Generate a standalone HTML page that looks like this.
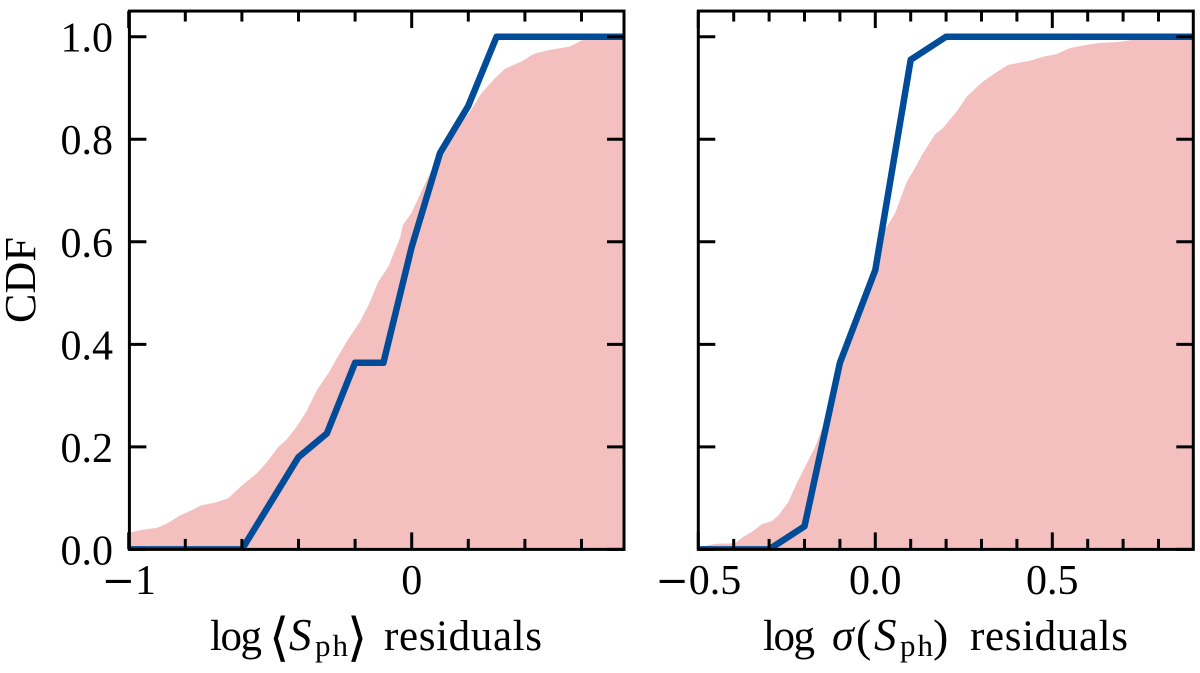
<!DOCTYPE html>
<html>
<head>
<meta charset="utf-8">
<style>
html,body{margin:0;padding:0;background:#fff;}
svg{display:block;}
text{font-family:"Liberation Serif","DejaVu Serif",serif;fill:#000;}
</style>
</head>
<body>
<svg id="chart" xmlns="http://www.w3.org/2000/svg" width="1200" height="673" viewBox="0 0 1200 673">
  <defs>
    <clipPath id="clip-left"><rect x="129.4" y="11.4" width="494.6" height="538"/></clipPath>
    <clipPath id="clip-right"><rect x="698.3" y="11.4" width="495" height="538"/></clipPath>
  </defs>
  <g id="panel-left"></g>
  <g id="panel-right"></g>

  <text transform="translate(35,323) rotate(-90)" font-size="44" textLength="86">CDF</text>

  <g>
    <text x="210" y="650" font-size="43" textLength="52">log</text>
    <text x="269" y="655" font-size="52" style="font-family:'DejaVu Sans',sans-serif">⟨</text>
    <text x="289" y="650" font-size="45" font-style="italic" textLength="26">S</text>
    <text x="315" y="656" font-size="31" textLength="33">ph</text>
    <text x="347" y="655" font-size="52" style="font-family:'DejaVu Sans',sans-serif">⟩</text>
    <text x="384" y="650" font-size="43" textLength="158">residuals</text>
  </g>
  <g>
    <text x="763" y="650" font-size="43" textLength="52">log</text>
    <text x="832" y="650" font-size="44" font-style="italic" textLength="24">σ</text>
    <text x="856" y="651" font-size="46">(</text>
    <text x="874" y="650" font-size="45" font-style="italic" textLength="26">S</text>
    <text x="900" y="656" font-size="31" textLength="33">ph</text>
    <text x="933" y="651" font-size="46">)</text>
    <text x="970" y="650" font-size="43" textLength="158">residuals</text>
  </g>
</svg>
<script>
// Shared y axis
const yTickValues = [0, 0.2, 0.4, 0.6, 0.8, 1.0];
const yTickLabels = ["0.0", "0.2", "0.4", "0.6", "0.8", "1.0"];

// Left panel: log <S_ph> residuals
const leftXMajor = [-1, 0];
const leftXMajorLabels = ["\u22121", "0"];
const leftXMinor = [-0.8, -0.6, -0.4, -0.2, 0.2, 0.4, 0.6];
const leftLineX = [-1, -0.9, -0.8, -0.7, -0.6, -0.5, -0.4, -0.3, -0.2, -0.1, 0, 0.1, 0.2, 0.3, 0.4, 0.5, 0.6, 0.7, 0.75];
const leftLineY = [0, 0, 0, 0, 0, 0.09, 0.18, 0.226, 0.364, 0.364, 0.59, 0.773, 0.865, 1, 1, 1, 1, 1, 1];
const leftFillX = [-1, -0.954, -0.901, -0.866, -0.819, -0.783, -0.742, -0.689, -0.648, -0.595, -0.548, -0.512, -0.471, -0.442, -0.406, -0.371, -0.336, -0.295, -0.265, -0.230, -0.183, -0.153, -0.118, -0.083, -0.041, -0.031, 0.000, 0.040, 0.100, 0.146, 0.206, 0.247, 0.294, 0.330, 0.393, 0.429, 0.477, 0.559, 0.605, 0.630, 0.75];
const leftFillY = [0.032, 0.038, 0.042, 0.05, 0.066, 0.075, 0.086, 0.092, 0.10, 0.127, 0.148, 0.17, 0.20, 0.214, 0.24, 0.27, 0.31, 0.343, 0.372, 0.405, 0.444, 0.476, 0.522, 0.551, 0.608, 0.633, 0.657, 0.705, 0.773, 0.812, 0.854, 0.89, 0.919, 0.9375, 0.953, 0.966, 0.973, 0.981, 0.994, 1, 1];

// Right panel: log sigma(S_ph) residuals
const rightXMajor = [-0.5, 0, 0.5];
const rightXMajorLabels = ["\u22120.5", "0.0", "0.5"];
const rightXMinor = [-0.4, -0.3, -0.2, -0.1, 0.1, 0.2, 0.3, 0.4, 0.6, 0.7, 0.8];
const rightLineX = [-0.5, -0.4, -0.3, -0.2, -0.1, 0, 0.1, 0.2, 0.3, 0.4, 0.5, 0.6, 0.7, 0.8, 0.9];
const rightLineY = [0, 0, 0, 0.045, 0.364, 0.545, 0.955, 1, 1, 1, 1, 1, 1, 1, 1];
const rightFillX = [-0.5, -0.448, -0.396, -0.374, -0.345, -0.321, -0.293, -0.274, -0.246, -0.222, -0.213, -0.170, -0.148, -0.091, -0.071, -0.021, 0.013, 0.027, 0.056, 0.089, 0.112, 0.135, 0.168, 0.191, 0.230, 0.258, 0.301, 0.332, 0.375, 0.437, 0.474, 0.512, 0.550, 0.597, 0.635, 0.691, 0.728, 0.776, 0.9];
const rightFillY = [0.005, 0.011, 0.012, 0.024, 0.036, 0.049, 0.055, 0.066, 0.092, 0.129, 0.141, 0.2, 0.239, 0.366, 0.408, 0.506, 0.571, 0.623, 0.656, 0.717, 0.744, 0.773, 0.809, 0.822, 0.854, 0.883, 0.911, 0.926, 0.945, 0.953, 0.961, 0.966, 0.978, 0.984, 0.988, 0.99, 0.994, 0.998, 1];

const NS = "http://www.w3.org/2000/svg";
const MINUS = "\u2212";
const yScale = v => 549.4 - 512.7 * v;
const TOP = yScale(1.05);
const BOTTOM = yScale(0);

function node(parent, tag, attrs) {
  const el = document.createElementNS(NS, tag);
  for (const k in attrs) el.setAttribute(k, attrs[k]);
  parent.appendChild(el);
  return el;
}

function tick(parent, x1, y1, x2, y2) {
  const el = node(parent, "line", {x1: x1, y1: y1, x2: x2, y2: y2, stroke: "#000", "stroke-width": 3});
  
  
}

function drawPanel(g, side, left, right, xScale, xMajor, xLabels, xMinor, lineX, lineY, fillX, fillY, showYLabels) {
  const area = "M" + xScale(fillX[0]).toFixed(2) + " " + BOTTOM +
    fillX.map((x, i) => "L" + xScale(x).toFixed(2) + " " + yScale(fillY[i]).toFixed(2)).join("") +
    "L" + xScale(fillX[fillX.length - 1]).toFixed(2) + " " + BOTTOM + "Z";
  const fillEl = node(g, "path", {d: area, fill: "#f3bfbf", "clip-path": "url(#clip-" + side + ")"});
  
  

  const pts = lineX.map((x, i) => xScale(x).toFixed(2) + "," + yScale(lineY[i]).toFixed(2)).join(" ");
  const lineEl = node(g, "polyline", {points: pts, fill: "none", stroke: "#004c99", "stroke-width": 6.5, "stroke-linejoin": "round", "clip-path": "url(#clip-" + side + ")"});
  
  

  xMinor.forEach(v => {
    const x = xScale(v);
    tick(g, x, TOP, x, TOP + 10.5);
    tick(g, x, BOTTOM, x, BOTTOM - 10.5);
  });
  xMajor.forEach((v, i) => {
    const x = xScale(v);
    tick(g, x, TOP, x, TOP + 17);
    tick(g, x, BOTTOM, x, BOTTOM - 17);
    const label = node(g, "text", {x: x, y: 594, "font-size": 42, "text-anchor": "middle"});
    
    
    const text = xLabels[i];
    if (text.charAt(0) === MINUS) {
      const minus = node(label, "tspan", {"font-size": 40});
      minus.style.fontFamily = "'DejaVu Serif',serif";
      minus.textContent = MINUS;
      
      
      const rest = node(label, "tspan", {});
      rest.textContent = text.slice(1);
      
      
    } else {
      label.textContent = text;
    }
  });
  yTickValues.forEach((v, i) => {
    const y = yScale(v);
    tick(g, left, y, left + 17, y);
    tick(g, right, y, right - 17, y);
    if (showYLabels) {
      const label = node(g, "text", {x: 113, y: y + 15, "font-size": 42, "text-anchor": "end"});
      label.textContent = yTickLabels[i];
      
      
    }
  });
  const frame = node(g, "rect", {x: left, y: TOP, width: right - left, height: BOTTOM - TOP, fill: "none", stroke: "#000", "stroke-width": 3});
  
  
}

const xLeft = v => 411.7 + 283 * v;
const xRight = v => 875.3 + 354 * v;

drawPanel(document.getElementById("panel-left"), "left", 129.4, 624, xLeft,
  leftXMajor, leftXMajorLabels, leftXMinor, leftLineX, leftLineY, leftFillX, leftFillY, true);
drawPanel(document.getElementById("panel-right"), "right", 698.3, 1193.3, xRight,
  rightXMajor, rightXMajorLabels, rightXMinor, rightLineX, rightLineY, rightFillX, rightFillY, false);
</script>
</body>
</html>
